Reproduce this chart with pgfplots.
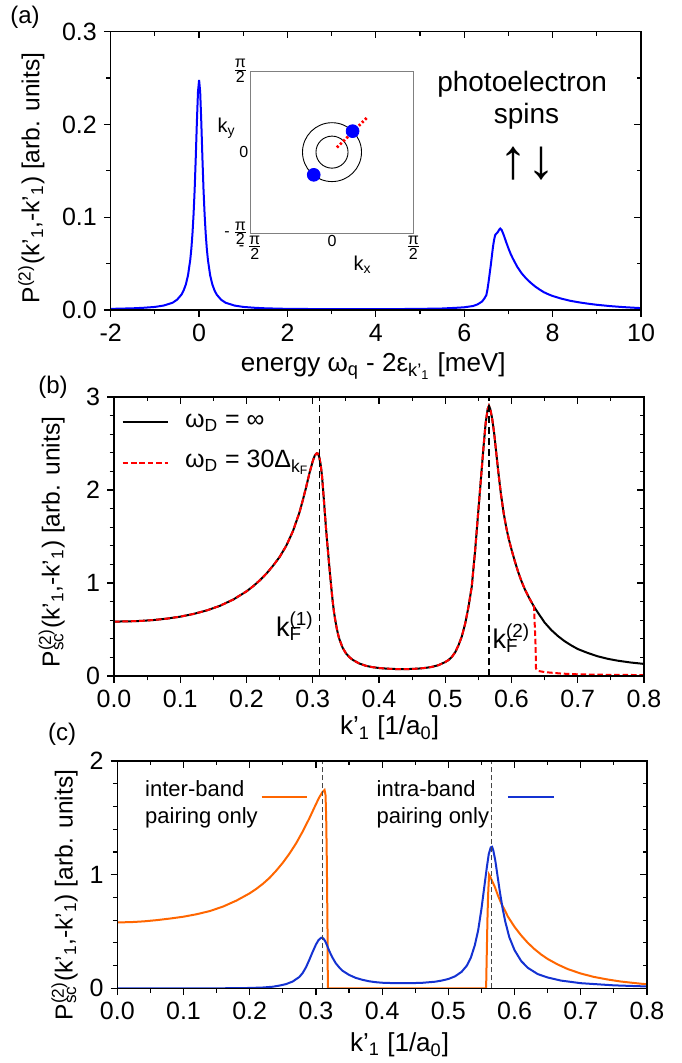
\documentclass[border=0pt]{standalone}
\usepackage{fontspec}
\setmainfont{Liberation Sans}
\usepackage{pgfplots}
\pgfplotsset{compat=1.18}

\definecolor{corange}{RGB}{255,102,0}
\definecolor{cblue}{RGB}{20,50,210}
\definecolor{vgray}{RGB}{70,70,70}

% superscript stacked over subscript
\newcommand{\supsub}[2]{\begingroup\setbox0=\hbox{\textsuperscript{#1}}%
  \setbox2=\hbox{\textsubscript{#2}}%
  \ifdim\wd0>\wd2 \rlap{\copy2}\copy0\else\rlap{\copy0}\copy2\fi\endgroup}

\tikzset{legfont/.style={font=\fontsize{11}{13}\selectfont},
         bigleg/.style={font=\fontsize{12.5}{14}\selectfont}}

\pgfplotsset{
  frame/.style={scale only axis, anchor=south west,
    /pgf/number format/assume math mode=true,
    tick label style={font=\fontsize{12.5}{14}\selectfont},
    xlabel style={font=\fontsize{13}{15}\selectfont},
    ylabel style={font=\fontsize{12.3}{15}\selectfont},
    axis line style={line width=0.6pt},
    every tick/.append style={line width=0.6pt, black},
    major tick length=3.4pt, minor tick length=2.2pt},
  lower/.style={frame, xtick pos=left, ytick pos=left, tick align=outside},
  upper/.style={frame, xtick pos=right, ytick pos=right, tick align=inside,
    xticklabels={}, yticklabels={}},
  onedec/.style={/pgf/number format/.cd, fixed, fixed zerofill, precision=1},
  pa/.style={at={(55.35pt,376.5pt)}, width=265.15pt, height=139.15pt,
    xmin=-2, xmax=10, ymin=0, ymax=0.3, xtick={-2,0,2,4,6,8,10}, minor x tick num=1,
    ytick={0,0.1,0.2,0.3}, minor y tick num=1},
  pb/.style={at={(57pt,193.5pt)}, width=265pt, height=139.5pt,
    xmin=0, xmax=0.8, ymin=0, ymax=3, xtick={0,0.1,0.2,0.3,0.4,0.5,0.6,0.7,0.8},
    minor x tick num=1, ytick={0,1,2,3}, minor y tick num=4},
  pc/.style={at={(58.65pt,37.35pt)}, width=264.85pt, height=113.65pt,
    xmin=0, xmax=0.8, ymin=0, ymax=2, xtick={0,0.1,0.2,0.3,0.4,0.5,0.6,0.7,0.8},
    minor x tick num=1, ytick={0,1,2}, minor y tick num=4},
}

% panel (b): common part of both curves, up to the cut-off
\pgfplotstableread{
x y
0.000 0.585
0.020 0.587
0.040 0.592
0.060 0.602
0.080 0.617
0.100 0.638
0.120 0.667
0.140 0.705
0.160 0.755
0.180 0.822
0.200 0.910
0.210 0.965
0.220 1.028
0.230 1.100
0.240 1.185
0.250 1.280
0.260 1.400
0.270 1.555
0.280 1.760
0.285 1.890
0.290 2.030
0.295 2.180
0.300 2.310
0.303 2.370
0.306 2.395
0.308 2.390
0.310 2.350
0.312 2.270
0.314 2.150
0.316 1.970
0.318 1.780
0.320 1.590
0.322 1.420
0.324 1.260
0.326 1.100
0.328 0.950
0.330 0.810
0.332 0.690
0.334 0.600
0.336 0.520
0.338 0.455
0.340 0.400
0.345 0.305
0.350 0.245
0.355 0.205
0.360 0.175
0.370 0.135
0.380 0.110
0.390 0.095
0.400 0.086
0.410 0.080
0.420 0.076
0.430 0.074
0.440 0.074
0.450 0.076
0.460 0.080
0.470 0.087
0.480 0.098
0.490 0.117
0.500 0.150
0.505 0.172
0.510 0.205
0.515 0.255
0.520 0.330
0.525 0.425
0.530 0.560
0.535 0.740
0.540 0.960
0.545 1.340
0.550 1.780
0.555 2.220
0.558 2.480
0.561 2.720
0.564 2.870
0.566 2.905
0.568 2.870
0.571 2.760
0.574 2.600
0.577 2.400
0.580 2.200
0.584 1.960
0.588 1.760
0.592 1.600
0.596 1.470
0.600 1.360
0.605 1.235
0.610 1.120
0.615 1.020
0.620 0.935
0.627 0.835
0.634 0.745
}\commonB

\begin{document}
\begin{tikzpicture}
\path[use as bounding box] (0,0) rectangle (340.5pt,531.5pt);

% ---------------- (a) ----------------
\begin{axis}[lower, pa,
  yticklabel style={onedec},
  xlabel={energy ω\textsubscript{q} - 2ε\textsubscript{k’\textsubscript{1}} [meV]},
  xlabel style={at={(axis description cs:0.495,-0.2217)}, anchor=base, inner sep=0pt},
  ylabel={P\textsuperscript{(2)}(k’\textsubscript{1},-k’\textsubscript{1}) [arb. units]},
  ylabel style={at={(axis description cs:-0.124,0.474)}, anchor=south, inner sep=0pt},
]
\addplot[blue, line width=1pt] coordinates {
  (-2.0,0.0012) (-1.5,0.0018) (-1.25,0.0024) (-1.0,0.0033) (-0.8,0.0048)
  (-0.6,0.0078) (-0.5,0.0110) (-0.4,0.0165) (-0.35,0.0210) (-0.3,0.0275)
  (-0.25,0.0375) (-0.2,0.0540) (-0.175,0.0660) (-0.15,0.0820) (-0.125,0.1030)
  (-0.1,0.1300) (-0.075,0.1645) (-0.05,0.2025) (-0.025,0.2350) (0,0.2480)
  (0.025,0.2350) (0.05,0.2025) (0.075,0.1645) (0.1,0.1300) (0.125,0.1030)
  (0.15,0.0820) (0.175,0.0660) (0.2,0.0540) (0.25,0.0375) (0.3,0.0275)
  (0.35,0.0210) (0.4,0.0165) (0.5,0.0110) (0.6,0.0078) (0.8,0.0048)
  (1.0,0.0033) (1.25,0.0024) (1.5,0.0018) (2.0,0.0012) (3.0,0.0009)
  (4.0,0.0008) (5.0,0.0012) (5.5,0.0016) (5.8,0.0023) (6.0,0.0029)
  (6.2,0.0043) (6.3,0.0060) (6.4,0.0090) (6.45,0.0120) (6.5,0.0160)
  (6.525,0.0220) (6.55,0.0300) (6.575,0.0390) (6.6,0.0480) (6.625,0.0580)
  (6.65,0.0680) (6.675,0.0755) (6.70,0.0808) (6.73,0.0825) (6.76,0.0840)
  (6.79,0.0865) (6.815,0.0877) (6.85,0.0860) (6.90,0.0800) (6.95,0.0730)
  (7.00,0.0665) (7.05,0.0605) (7.10,0.0555) (7.20,0.0465) (7.30,0.0395)
  (7.40,0.0340) (7.50,0.0295) (7.60,0.0255) (7.70,0.0222) (7.80,0.0192)
  (7.90,0.0170) (8.00,0.0151) (8.20,0.0122) (8.40,0.0099) (8.60,0.0082)
  (8.80,0.0068) (9.00,0.0056) (9.30,0.0042) (9.60,0.0031) (10.0,0.0020)
};
\node[anchor=base, font=\fontsize{14}{16}\selectfont] at (axis cs:7.31,0.2353) {photoelectron};
\node[anchor=base, font=\fontsize{14}{16}\selectfont] at (axis cs:7.41,0.2012) {spins};
\node[font=\fontsize{28}{30}\selectfont] at (axis cs:7.44,0.158) {↑↓};
\end{axis}
\begin{axis}[upper, pa]
\end{axis}

% inset
\begin{axis}[at={(125.35pt,414.85pt)}, anchor=south west, scale only axis,
  width=81.3pt, height=81.15pt,
  xmin=-1.5708, xmax=1.5708, ymin=-1.5708, ymax=1.5708,
  axis line style={gray, line width=0.4pt}, major tick length=0pt,
  xtick={-1.5708,0,1.5708}, ytick={-1.5708,0,1.5708},
  xticklabels={{-\,$\frac{\mbox{π}}{\mbox{2}}$},{0},{$\frac{\mbox{π}}{\mbox{2}}$}},
  yticklabels={{-\,$\frac{\mbox{π}}{\mbox{2}}$},{0},{$\frac{\mbox{π}}{\mbox{2}}$}},
  tick label style={font=\fontsize{8}{9}\selectfont, inner sep=1pt},
  clip=false]
\draw[black, line width=0.45pt] (axis cs:0,0) circle[radius=0.31];
\draw[black, line width=0.45pt] (axis cs:0,0) circle[radius=0.57];
\addplot[red, line width=1.4pt, dash pattern=on 1.1pt off 1.1pt] coordinates {(0.096,0.09) (0.693,0.683)};
\addplot[only marks, mark=*, mark size=3.2pt, blue] coordinates {(0.3975,0.406) (-0.353,-0.439)};
\node[anchor=east, font=\fontsize{10}{11}\selectfont] at (axis cs:-1.5708,0.46) [xshift=-4pt] {k\textsubscript{y}};
\node[anchor=north, font=\fontsize{10}{11}\selectfont] at (axis cs:0.59,-1.5708) [yshift=-8pt] {k\textsubscript{x}};
\end{axis}

\node[font=\fontsize{12}{14}\selectfont] at (12.5pt,523pt) {(a)};

% ---------------- (b) ----------------
\begin{axis}[lower, pb,
  xticklabel style={onedec},
  xlabel={k’\textsubscript{1} [1/a\textsubscript{0}]},
  xlabel style={at={(axis description cs:0.52,-0.211)}, anchor=base, inner sep=0pt},
  ylabel={P\supsub{(2)}{sc}(k’\textsubscript{1},-k’\textsubscript{1}) [arb. units]},
  ylabel style={at={(axis description cs:-0.092,0.48)}, anchor=south, inner sep=0pt},
  legend style={draw=none, fill=none, inner sep=0pt, outer sep=0pt, row sep=19pt,
    nodes={inner sep=0pt}, at={(axis cs:0.0116,2.745)}, anchor=north west},
  legend image code/.code={\draw[#1] (0pt,0pt) -- (22.5pt,0pt);},
]
\addplot[black, line width=1pt] table {\commonB} -- plot coordinates {
  (0.640,0.680) (0.650,0.575) (0.660,0.495) (0.670,0.430) (0.680,0.375)
  (0.690,0.330) (0.700,0.290) (0.715,0.248) (0.730,0.212) (0.745,0.185)
  (0.760,0.165) (0.780,0.145) (0.800,0.130)
};
\addlegendentry{}
\addplot[red, line width=1pt, dash pattern=on 2.8pt off 1.4pt] table {\commonB} -- plot coordinates {
  (0.6365,0.300) (0.637,0.080) (0.640,0.055) (0.650,0.042) (0.675,0.026)
  (0.700,0.018) (0.750,0.012) (0.800,0.010)
};
\addlegendentry{}
\addplot[black, line width=0.7pt, dash pattern=on 3.5pt off 2pt, forget plot] coordinates {(0.31,0) (0.31,3)};
\addplot[black, line width=0.7pt, dash pattern=on 3.5pt off 2pt, forget plot] coordinates {(0.566,0) (0.566,3)};
\node[anchor=base west, bigleg] at (axis cs:0.0966,2.674) {ω\textsubscript{D} = ∞};
\node[anchor=base west, bigleg] at (axis cs:0.0966,2.237) {ω\textsubscript{D} = 30Δ\textsubscript{k\textsubscript{F}}};
\node[anchor=base east, font=\fontsize{13.5}{15}\selectfont, inner sep=0pt] at (axis cs:0.302,0.43) {k\supsub{(1)}{F}};
\node[anchor=base west, font=\fontsize{13.5}{15}\selectfont, inner sep=0pt] at (axis cs:0.571,0.30) {k\supsub{(2)}{F}};
\end{axis}
\begin{axis}[upper, pb]
\end{axis}

\node[font=\fontsize{12}{14}\selectfont] at (26.5pt,338pt) {(b)};

% ---------------- (c) ----------------
\begin{axis}[lower, pc,
  xticklabel style={onedec},
  xlabel={k’\textsubscript{1} [1/a\textsubscript{0}]},
  xlabel style={at={(axis description cs:0.533,-0.279)}, anchor=base, inner sep=0pt},
  ylabel={P\supsub{(2)}{sc}(k’\textsubscript{1},-k’\textsubscript{1}) [arb. units]},
  ylabel style={at={(axis description cs:-0.074,0.41)}, anchor=south, inner sep=0pt},
  legend style={draw=none, fill=none, inner sep=0pt, outer sep=0pt,
    nodes={inner sep=0pt}, at={(axis cs:0.2165,1.686)}, anchor=west},
  legend image code/.code={\draw[#1] (0pt,0pt) -- (22.8pt,0pt);},
]
\addplot[corange, line width=1pt] coordinates {
  (0.000,0.580) (0.020,0.582) (0.040,0.589) (0.060,0.600) (0.080,0.614)
  (0.100,0.630) (0.120,0.652) (0.140,0.680) (0.160,0.720) (0.180,0.772)
  (0.200,0.836) (0.210,0.875) (0.220,0.920) (0.230,0.972) (0.240,1.035)
  (0.250,1.105) (0.260,1.185) (0.270,1.275) (0.280,1.380) (0.290,1.495)
  (0.300,1.620) (0.305,1.680) (0.310,1.728) (0.313,1.745) (0.3145,1.700)
  (0.3155,1.500) (0.3165,1.100) (0.3175,0.500) (0.318,0.000) (0.557,0.000)
  (0.558,0.300) (0.559,0.600) (0.560,0.820) (0.5615,1.000) (0.563,0.985)
  (0.566,0.945) (0.570,0.895) (0.575,0.815) (0.580,0.745) (0.585,0.690)
  (0.590,0.630) (0.600,0.540) (0.610,0.465) (0.620,0.400) (0.630,0.345)
  (0.640,0.298) (0.650,0.258) (0.665,0.210) (0.680,0.170) (0.700,0.130)
  (0.720,0.100) (0.740,0.078) (0.760,0.060) (0.780,0.047) (0.800,0.035)
};
\addlegendentry{}
\addplot[cblue, line width=1pt, forget plot] coordinates {
  (0.000,0.000) (0.150,0.000) (0.180,0.001) (0.200,0.003) (0.220,0.007)
  (0.235,0.014) (0.245,0.024) (0.255,0.037) (0.265,0.060) (0.275,0.100)
  (0.280,0.135) (0.285,0.185) (0.290,0.250) (0.295,0.320) (0.300,0.385)
  (0.304,0.425) (0.308,0.445) (0.311,0.440) (0.314,0.415) (0.317,0.375)
  (0.320,0.330) (0.325,0.270) (0.330,0.220) (0.335,0.185) (0.340,0.155)
  (0.350,0.118) (0.360,0.092) (0.370,0.075) (0.380,0.062) (0.390,0.054)
  (0.400,0.049) (0.420,0.045) (0.440,0.045) (0.460,0.048) (0.480,0.058)
  (0.490,0.068) (0.500,0.082) (0.510,0.105) (0.520,0.145) (0.528,0.200)
  (0.534,0.270) (0.540,0.380) (0.545,0.510) (0.550,0.700) (0.554,0.880)
  (0.558,1.060) (0.561,1.180) (0.564,1.240) (0.566,1.245) (0.568,1.210)
  (0.571,1.120) (0.574,1.000) (0.578,0.840) (0.582,0.700) (0.586,0.586)
  (0.592,0.450) (0.600,0.335) (0.610,0.240) (0.620,0.180) (0.635,0.125)
  (0.650,0.095) (0.670,0.068) (0.700,0.045) (0.750,0.026) (0.800,0.016)
};
\addplot[vgray, line width=0.5pt, dash pattern=on 2.5pt off 1.5pt, forget plot] coordinates {(0.31,0) (0.31,2)};
\addplot[vgray, line width=0.5pt, dash pattern=on 2.5pt off 1.5pt, forget plot] coordinates {(0.565,0) (0.565,2)};
\node[anchor=base west, legfont] at (axis cs:0.0315,1.686) {inter-band};
\node[anchor=base west, legfont] at (axis cs:0.0315,1.452) {pairing only};
\node[anchor=base west, legfont] at (axis cs:0.381,1.686) {intra-band};
\node[anchor=base west, legfont] at (axis cs:0.381,1.452) {pairing only};
\end{axis}
\begin{axis}[upper, pc,
  legend style={draw=none, fill=none, inner sep=0pt, outer sep=0pt,
    nodes={inner sep=0pt}, at={(axis cs:0.5885,1.686)}, anchor=west},
  legend image code/.code={\draw[#1] (0pt,0pt) -- (22.8pt,0pt);},
]
\addlegendimage{cblue, line width=1pt}
\addlegendentry{}
\end{axis}

\node[font=\fontsize{12}{14}\selectfont] at (31pt,164.5pt) {(c)};
\end{tikzpicture}
\end{document}
